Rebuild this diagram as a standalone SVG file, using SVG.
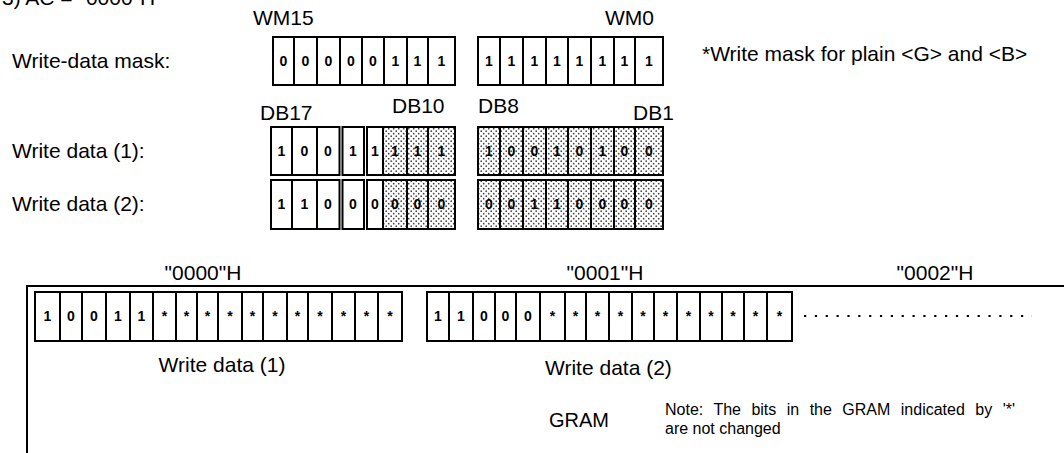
<svg xmlns="http://www.w3.org/2000/svg" width="1064" height="453" viewBox="0 0 1064 453">
<style>
.t{font-family:"Liberation Sans",Arial,sans-serif;font-size:21px;fill:#000}
.n{font-family:"Liberation Sans",Arial,sans-serif;font-size:16px;fill:#000}
.d{font-family:"Liberation Sans",Arial,sans-serif;font-size:14px;font-weight:bold;fill:#000;text-anchor:middle}
.c{fill:#fff;stroke:#000;stroke-width:2}
.s{fill:url(#dots);stroke:#000;stroke-width:2}
.box{fill:none;stroke:#000;stroke-width:2}
.mid{text-anchor:middle}
</style>
<defs>
<pattern id="dots" width="5" height="5" patternUnits="userSpaceOnUse">
<rect width="5" height="5" fill="#fff"/>
<circle cx="1.2" cy="1.2" r="0.85" fill="#444"/>
<circle cx="3.7" cy="3.7" r="0.85" fill="#444"/>
</pattern>
</defs>
<text class="t" x="2" y="5">3) AC = "0000"H</text>
<text class="t" x="253" y="25">WM15</text>
<text class="t" x="605" y="25">WM0</text>
<text class="t" x="12" y="68">Write-data mask:</text>
<text class="t" x="702" y="61">*Write mask for plain &lt;G&gt; and &lt;B&gt;</text>
<text class="t" x="260" y="120">DB17</text>
<text class="t" x="392" y="113">DB10</text>
<text class="t" x="478" y="113">DB8</text>
<text class="t" x="633" y="120">DB1</text>
<text class="t" x="12" y="158">Write data (1):</text>
<text class="t" x="12" y="211">Write data (2):</text>

<g id="mask-hi">
<rect class="c" x="273" y="37" width="21" height="48"/><rect class="c" x="294" y="37" width="23" height="48"/><rect class="c" x="317" y="37" width="23" height="48"/><rect class="c" x="340" y="37" width="22" height="48"/><rect class="c" x="362" y="37" width="22" height="48"/><rect class="c" x="384" y="37" width="23" height="48"/><rect class="c" x="407" y="37" width="21" height="48"/><rect class="c" x="428" y="37" width="27" height="48"/>
<text class="d" y="66"><tspan x="283.5">0</tspan><tspan x="305.5">0</tspan><tspan x="328.5">0</tspan><tspan x="351">0</tspan><tspan x="373">0</tspan><tspan x="395.5">1</tspan><tspan x="417.5">1</tspan><tspan x="441.5">1</tspan></text>
</g>
<g id="mask-lo">
<rect class="c" x="478" y="37" width="22" height="48"/><rect class="c" x="500" y="37" width="23" height="48"/><rect class="c" x="523" y="37" width="23" height="48"/><rect class="c" x="546" y="37" width="22" height="48"/><rect class="c" x="568" y="37" width="23" height="48"/><rect class="c" x="591" y="37" width="23" height="48"/><rect class="c" x="614" y="37" width="21" height="48"/><rect class="c" x="635" y="37" width="28" height="48"/>
<text class="d" y="66"><tspan x="489">1</tspan><tspan x="511.5">1</tspan><tspan x="534.5">1</tspan><tspan x="557">1</tspan><tspan x="579.5">1</tspan><tspan x="602.5">1</tspan><tspan x="624.5">1</tspan><tspan x="649">1</tspan></text>
</g>

<g id="data1-hi">
<rect class="c" x="271" y="127" width="21" height="48"/><rect class="c" x="292" y="127" width="25" height="48"/><rect class="c" x="317" y="127" width="22.5" height="48"/><rect class="c" x="342.5" y="127" width="21.5" height="48"/><rect class="c" x="367" y="127" width="16" height="48"/><rect class="s" x="383" y="127" width="24" height="48"/><rect class="s" x="407" y="127" width="21" height="48"/><rect class="s" x="428" y="127" width="27" height="48"/>
<text class="d" y="156"><tspan x="281.5">1</tspan><tspan x="304.5">0</tspan><tspan x="328">0</tspan><tspan x="353">1</tspan><tspan x="375">1</tspan><tspan x="395">1</tspan><tspan x="417.5">1</tspan><tspan x="441.5">1</tspan></text>
</g>
<g id="data1-lo">
<rect class="s" x="478" y="127" width="22" height="48"/><rect class="s" x="500" y="127" width="23" height="48"/><rect class="s" x="523" y="127" width="23" height="48"/><rect class="s" x="546" y="127" width="22" height="48"/><rect class="s" x="568" y="127" width="23" height="48"/><rect class="s" x="591" y="127" width="23" height="48"/><rect class="s" x="614" y="127" width="21" height="48"/><rect class="s" x="635" y="127" width="28" height="48"/>
<text class="d" y="156"><tspan x="489">1</tspan><tspan x="511.5">0</tspan><tspan x="534.5">0</tspan><tspan x="557">1</tspan><tspan x="579.5">0</tspan><tspan x="602.5">1</tspan><tspan x="624.5">0</tspan><tspan x="649">0</tspan></text>
</g>

<g id="data2-hi">
<rect class="c" x="271" y="180" width="21" height="49"/><rect class="c" x="292" y="180" width="25" height="49"/><rect class="c" x="317" y="180" width="22.5" height="49"/><rect class="c" x="342.5" y="180" width="21.5" height="49"/><rect class="c" x="367" y="180" width="16" height="49"/><rect class="s" x="383" y="180" width="24" height="49"/><rect class="s" x="407" y="180" width="21" height="49"/><rect class="s" x="428" y="180" width="27" height="49"/>
<text class="d" y="209"><tspan x="281.5">1</tspan><tspan x="304.5">1</tspan><tspan x="328">0</tspan><tspan x="353">0</tspan><tspan x="375">0</tspan><tspan x="395">0</tspan><tspan x="417.5">0</tspan><tspan x="441.5">0</tspan></text>
</g>
<g id="data2-lo">
<rect class="s" x="478" y="180" width="22" height="49"/><rect class="s" x="500" y="180" width="23" height="49"/><rect class="s" x="523" y="180" width="23" height="49"/><rect class="s" x="546" y="180" width="22" height="49"/><rect class="s" x="568" y="180" width="23" height="49"/><rect class="s" x="591" y="180" width="23" height="49"/><rect class="s" x="614" y="180" width="21" height="49"/><rect class="s" x="635" y="180" width="28" height="49"/>
<text class="d" y="209"><tspan x="489">0</tspan><tspan x="511.5">0</tspan><tspan x="534.5">1</tspan><tspan x="557">1</tspan><tspan x="579.5">0</tspan><tspan x="602.5">0</tspan><tspan x="624.5">0</tspan><tspan x="649">0</tspan></text>
</g>

<text class="t mid" x="203" y="280">"0000"H</text>
<text class="t mid" x="605" y="280">"0001"H</text>
<text class="t mid" x="935" y="280">"0002"H</text>

<g id="gram">
<rect class="box" x="27" y="286" width="1100" height="168"/>
<g id="gram-0000">
<rect class="c" x="35" y="292" width="367" height="49"/>
<path class="box" d="M60 292V341M82 292V341M106 292V341M130 292V341M153 292V341M176 292V341M197 292V341M218 292V341M242 292V341M263 292V341M287 292V341M308 292V341M332 292V341M355 292V341M378 292V341"/>
<text class="d" y="321"><tspan x="47.5">1</tspan><tspan x="71">0</tspan><tspan x="94">0</tspan><tspan x="118">1</tspan><tspan x="141.5">1</tspan><tspan x="164.5">*</tspan><tspan x="186.5">*</tspan><tspan x="207.5">*</tspan><tspan x="230">*</tspan><tspan x="252.5">*</tspan><tspan x="275">*</tspan><tspan x="297.5">*</tspan><tspan x="320">*</tspan><tspan x="343.5">*</tspan><tspan x="366.5">*</tspan><tspan x="390">*</tspan></text>
</g>
<g id="gram-0001">
<rect class="c" x="427" y="292" width="365" height="49"/>
<path class="box" d="M449 292V341M473 292V341M495 292V341M516 292V341M540 292V341M565 292V341M586 292V341M609 292V341M632 292V341M654 292V341M677 292V341M700 292V341M722 292V341M744 292V341M767 292V341"/>
<text class="d" y="321"><tspan x="438">1</tspan><tspan x="461">1</tspan><tspan x="484">0</tspan><tspan x="505.5">0</tspan><tspan x="528">0</tspan><tspan x="552.5">*</tspan><tspan x="575.5">*</tspan><tspan x="597.5">*</tspan><tspan x="620.5">*</tspan><tspan x="643">*</tspan><tspan x="665.5">*</tspan><tspan x="688.5">*</tspan><tspan x="711">*</tspan><tspan x="733">*</tspan><tspan x="755.5">*</tspan><tspan x="779.5">*</tspan></text>
</g>
<line x1="804" y1="316" x2="1032" y2="316" stroke="#000" stroke-width="2.2" stroke-dasharray="2.2 8.65"/>
<text class="t mid" x="222" y="372">Write data (1)</text>
<text class="t" x="545" y="375">Write data (2)</text>
<text class="t" x="549" y="427" style="font-size:20px">GRAM</text>
<text class="n" x="665" y="415" style="word-spacing:6px">Note: The bits in the GRAM indicated by '*'</text>
<text class="n" x="665" y="434">are not changed</text>
</g>
<g id="connectors"/>
</svg>
